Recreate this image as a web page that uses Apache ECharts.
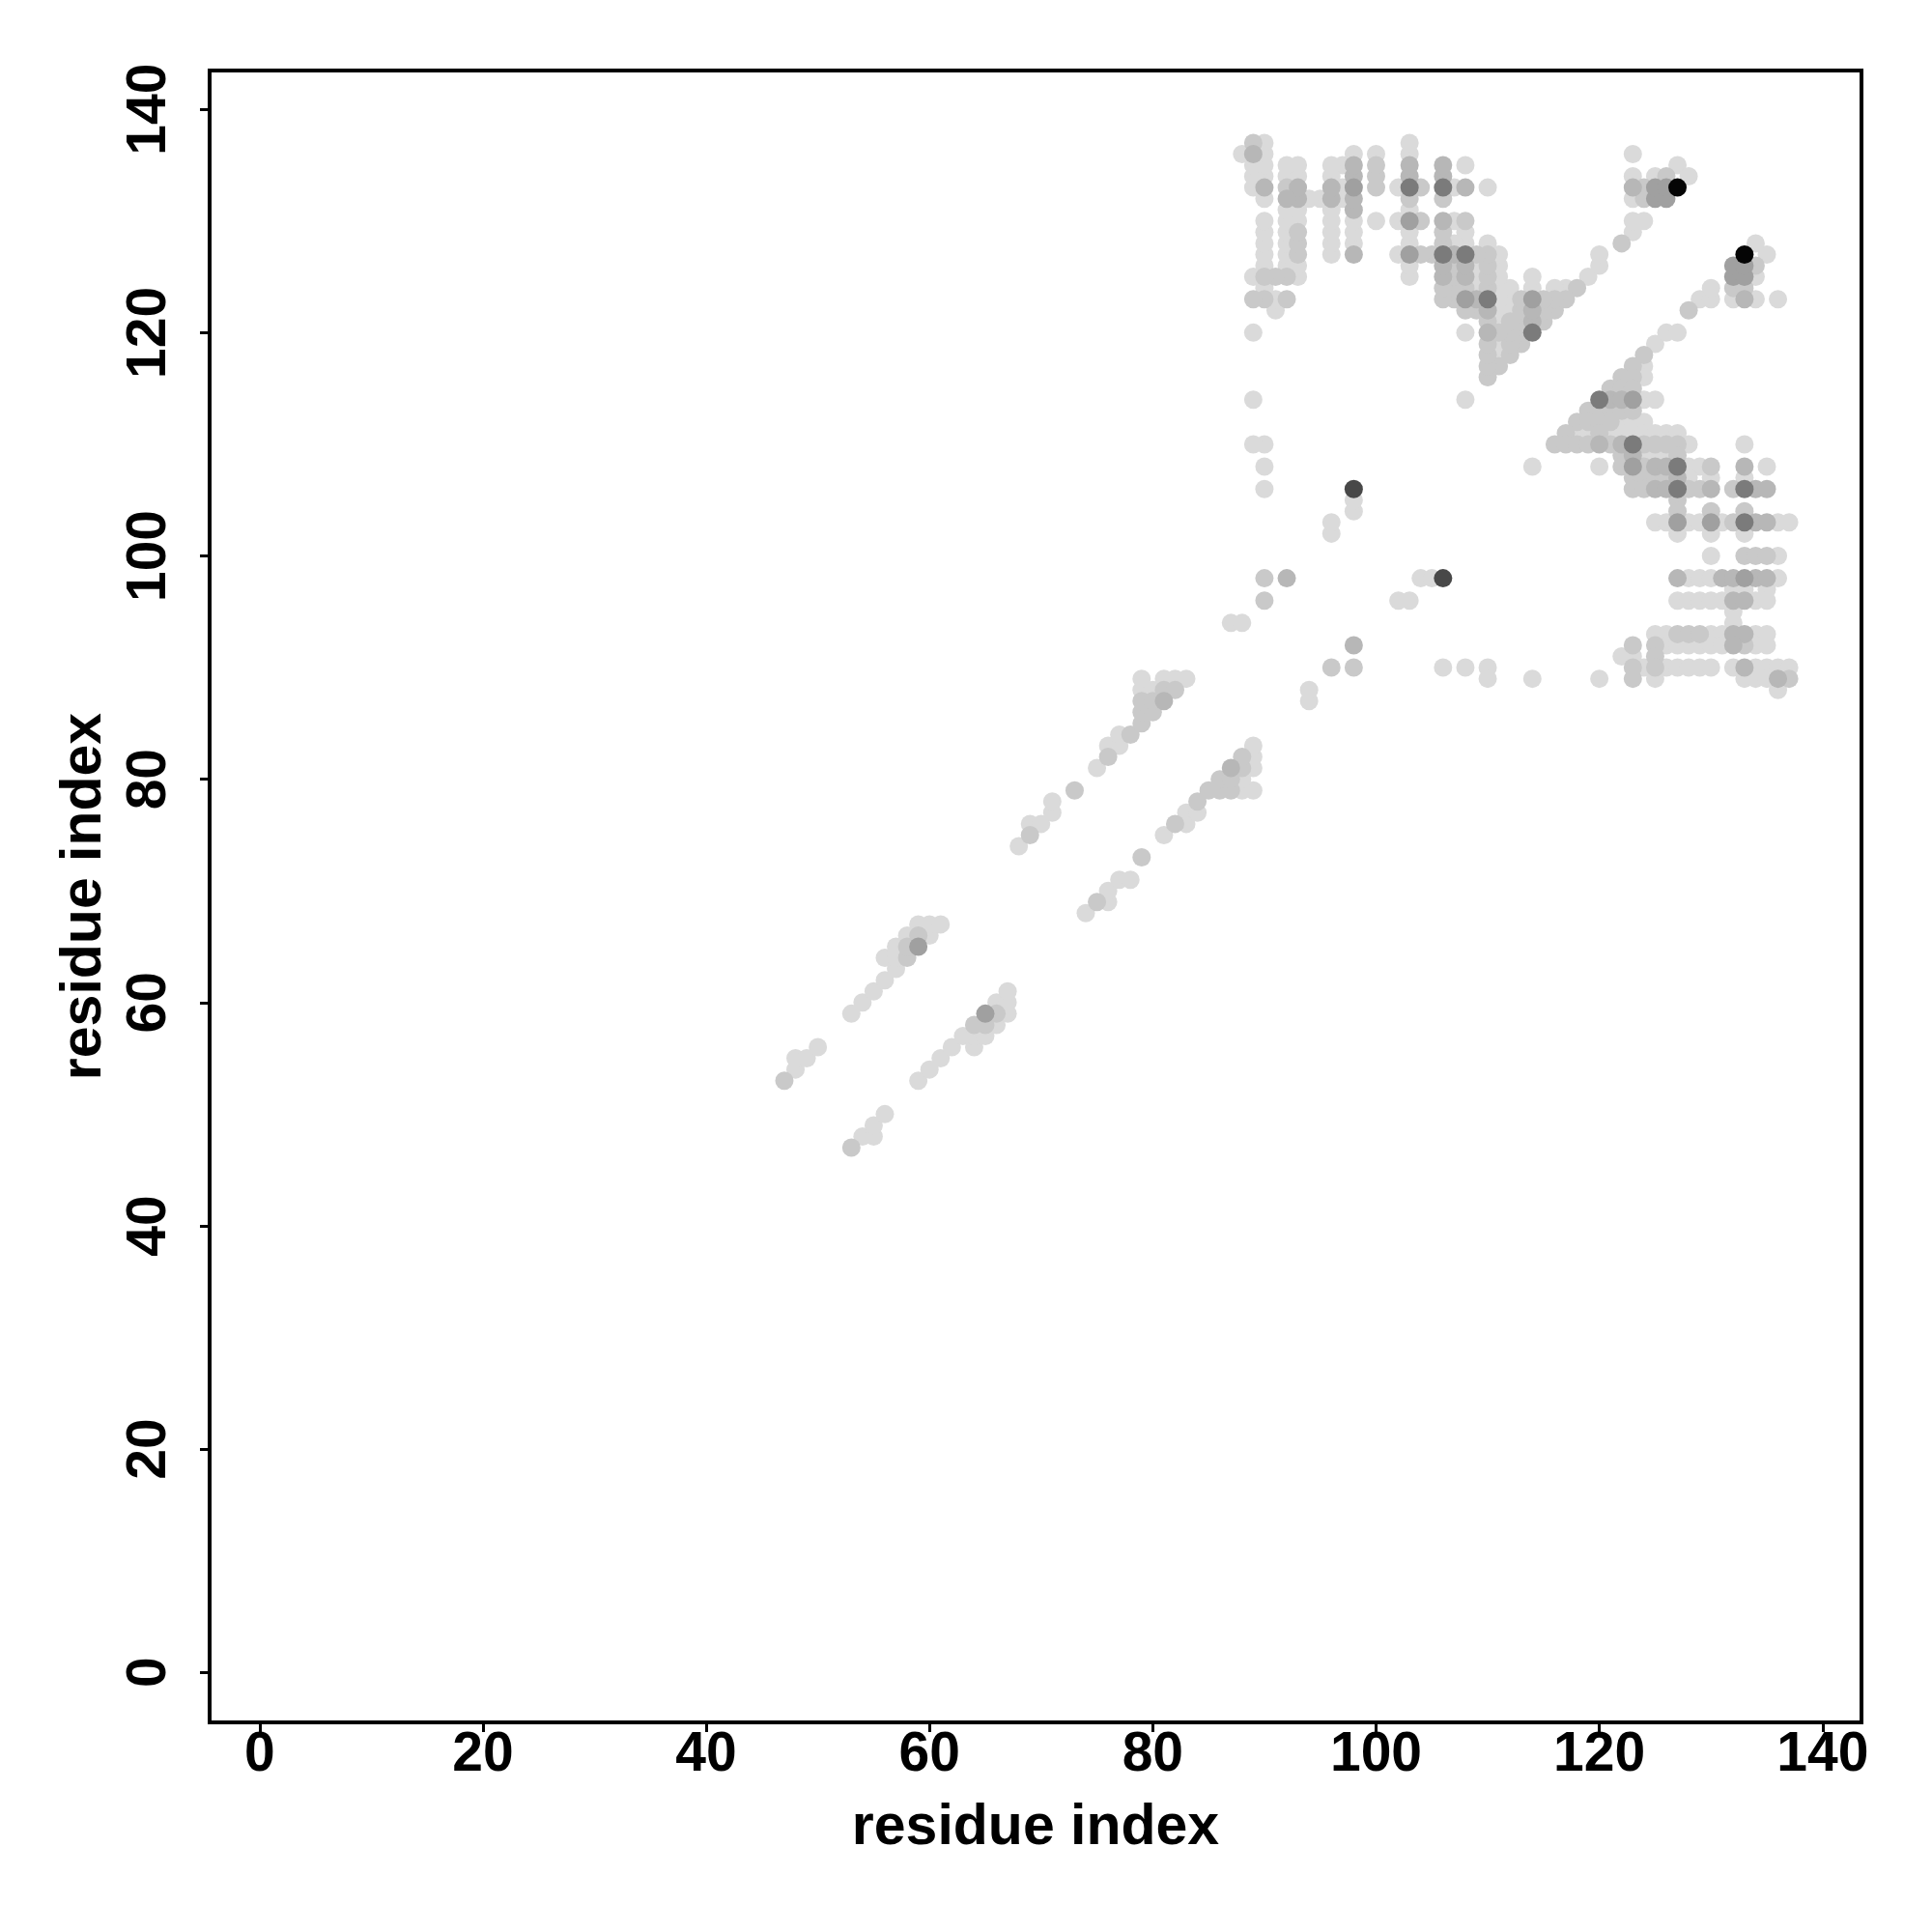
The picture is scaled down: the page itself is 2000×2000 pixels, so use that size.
<!DOCTYPE html>
<html>
<head>
<meta charset="utf-8">
<script src="https://cdn.jsdelivr.net/npm/echarts@6/dist/echarts.min.js"></script>
<style>
html,body{margin:0;padding:0;background:#ffffff;}
#chart{width:2000px;height:2000px;}
</style>
</head>
<body>
<div id="chart"></div>
<script>
// Contact map: each entry [residue i (larger), residue j (smaller), shade level 1..7]
// The map is symmetric; the mirrored point (j, i) is added when building the series.
const bandA = [[53,47,2],[54,48,1],[55,48,1],[55,49,1],[56,50,1]];
const bandB = [[59,53,1],[60,54,1],[61,55,1],[62,56,1],[63,57,1],[64,56,1],[64,57,1],[64,58,2],
  [65,57,1],[65,58,2],[65,59,4],[66,58,1],[66,59,2],[66,60,1],[67,59,1],[67,60,1],[67,61,1]];
const bandC = [[74,68,1],[75,69,2],[76,69,1],[76,70,1],[77,71,1],[78,71,1],[79,73,2],[81,75,1],
  [82,76,2],[83,76,1],[83,77,1],[84,77,1],[84,78,2],[85,79,2],[86,79,2],[87,79,2],[88,79,1],
  [89,79,1],[86,80,2],[87,80,2],[88,80,1],[87,81,3],[88,81,2],[89,81,1],[88,82,2],[89,82,1],[89,83,1]];
const sparse = [[94,87,1],[94,88,1],[96,90,2],[98,90,2],[98,92,3],[102,96,1],[103,96,1],[104,98,1],
  [105,98,1],[106,98,6],[106,90,1],[108,90,1],[110,90,1],[110,89,1],[114,89,1],[120,89,1],[114,108,1]];
const nearDiag = [
  [125,119,1],[124,118,2],[123,117,2],[124,117,1],[122,116,2],[123,116,2],[124,116,1],
  [121,115,2],[122,115,2],[123,115,2],
  [120,114,5],[121,114,3],[122,114,3],[123,114,4],[124,114,1],[125,114,1],
  [119,113,2],[120,113,2],[121,113,2],[122,113,2],[123,113,2],
  [118,112,2],[119,112,2],[120,112,2],[121,112,2],[122,112,1],[123,112,1],[124,112,1],
  [117,111,2],[118,111,1],[119,111,1],[120,111,2],[121,111,1],[122,111,1],[123,111,1],[124,111,1],
  [125,111,1],[126,111,1],[127,111,1],
  [116,110,2],[117,110,2],[118,110,2],[119,110,2],[120,110,3],[121,110,2],[122,110,3],[123,110,5],
  [124,110,2],[125,110,2],[126,110,2],[127,110,2],[128,110,1],[133,110,1],
  [122,109,2],[123,109,3],[124,109,1],[125,109,1],[126,109,1],[127,109,2],
  [126,120,1],[127,120,1],[128,122,2],[129,123,1],[130,123,1],[130,124,1]];
const rowsUpper = [
  [120,108,1],[122,108,2],[123,108,4],[124,108,2],[125,108,3],[126,108,3],[127,108,5],[128,108,1],
  [129,108,1],[130,108,2],[133,108,3],[135,108,1],
  [123,107,2],[124,107,2],[125,107,2],[126,107,2],[127,107,3],[128,107,1],[130,107,1],[133,107,1],
  [123,106,2],[124,106,2],[125,106,3],[126,106,3],[127,106,5],[128,106,2],[129,106,2],[130,106,3],
  [132,106,2],[133,106,5],[134,106,3],[135,106,3],
  [127,105,2],[127,104,2],[130,104,2],[133,104,2],
  [125,103,1],[126,103,1],[127,103,4],[128,103,1],[129,103,1],[130,103,4],[131,103,1],[132,103,2],
  [133,103,5],[134,103,3],[135,103,3],[136,103,1],[137,103,1],
  [127,102,1],[130,102,1],[133,102,1],
  [130,100,1],[133,100,2],[134,100,2],[135,100,2],[136,100,1]];
const rowsLower = [
  [127,98,3],[128,98,1],[129,98,1],[130,98,1],[131,98,3],[132,98,3],[133,98,4],[134,98,3],[135,98,3],[136,98,1],
  [132,97,1],[133,97,1],[135,97,1],
  [127,96,1],[128,96,1],[129,96,1],[130,96,1],[131,96,1],[132,96,3],[133,96,3],[134,96,1],[135,96,1],
  [132,95,1],[132,94,1],
  [125,93,1],[126,93,1],[127,93,2],[128,93,2],[129,93,2],[130,93,1],[131,93,1],[132,93,3],[133,93,3],[134,93,1],[135,93,1],
  [123,92,2],[125,92,2],[126,92,1],[127,92,1],[128,92,1],[129,92,1],[130,92,1],[131,92,1],[132,92,3],[133,92,2],[134,92,1],[135,92,1],
  [122,91,1],[123,91,1],[125,91,2],
  [123,90,2],[124,90,1],[125,90,2],[126,90,1],[127,90,1],[128,90,1],[129,90,1],[130,90,1],
  [132,90,1],[133,90,3],[134,90,1],[135,90,1],[136,90,1],[137,90,1],
  [123,89,2],[125,89,1],[133,89,1],[134,89,1],[135,89,1],[136,89,3],[137,89,2],
  [136,88,1]];
const corner = [[132,123,1],[133,123,3],[134,123,1],[136,123,1],[132,124,2],[133,124,2],
  [132,125,4],[133,125,4],[134,125,1],[132,126,4],[133,126,4],[134,126,2],[133,127,7],[135,127,1],[134,128,1]];

const tickValues = [0, 20, 40, 60, 80, 100, 120, 140];
const axisTitle = 'residue index';

// style constants
const greys = ['#ffffff', '#dadada', '#c9c9c9', '#b7b7b7', '#a0a0a0', '#7b7b7b', '#484848', '#050505'];

const groups = [bandA, bandB, bandC, sparse, nearDiag, rowsUpper, rowsLower, corner];
const points = [];
groups.forEach(g => g.forEach(([a, b, s]) => {
  points.push([a, b, s]);
  points.push([b, a, s]);
}));
points.sort((p, q) => p[2] - q[2]);

const font = 'Liberation Sans, Arial, Helvetica, sans-serif';
const chart = echarts.init(document.getElementById('chart'), null, {renderer: 'canvas'});
chart.setOption({
  animation: false,
  backgroundColor: '#ffffff',
  grid: {
    left: 217, top: 73, width: 1710, height: 1710,
    show: true, borderColor: '#000', borderWidth: 4, backgroundColor: 'transparent'
  },
  xAxis: {
    type: 'value', min: -4.48, max: 143.48,
    splitLine: {show: false},
    axisLine: {show: false, onZero: false},
    axisTick: {show: true, customValues: tickValues, length: 10, lineStyle: {color: '#000', width: 3}},
    axisLabel: {customValues: tickValues, color: '#000', fontFamily: font, fontWeight: 'bold', fontSize: 57, margin: 6},
    name: axisTitle, nameLocation: 'middle', nameGap: 80,
    nameTextStyle: {color: '#000', fontFamily: font, fontWeight: 'bold', fontSize: 59}
  },
  yAxis: {
    type: 'value', min: -4.48, max: 143.48,
    splitLine: {show: false},
    axisLine: {show: false, onZero: false},
    axisTick: {show: true, customValues: tickValues, length: 10, lineStyle: {color: '#000', width: 3}},
    axisLabel: {customValues: tickValues, rotate: 90, color: '#000', fontFamily: font, fontWeight: 'bold', fontSize: 57, margin: 33},
    name: axisTitle, nameLocation: 'middle', nameGap: 100,
    nameTextStyle: {color: '#000', fontFamily: font, fontWeight: 'bold', fontSize: 59}
  },
  series: [{
    type: 'scatter',
    data: points,
    symbol: 'circle',
    symbolSize: 19,
    itemStyle: {
      color: p => greys[p.data[2]],
      opacity: 1
    },
    emphasis: {disabled: true}
  }]
});
</script>
</body>
</html>
